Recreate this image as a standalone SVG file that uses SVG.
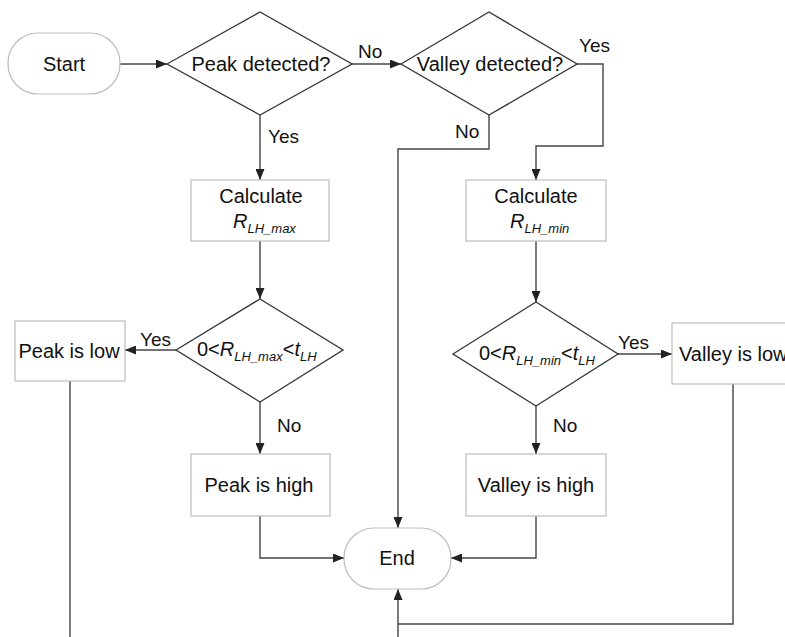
<svg xmlns="http://www.w3.org/2000/svg" width="785" height="637" viewBox="0 0 785 637">
<style>
text{font-family:"Liberation Sans",Arial,sans-serif;font-size:20px;fill:#111}
.lbl{font-size:19px}
.c{text-anchor:middle}
.box{fill:#fff;stroke:#bdbdbd;stroke-width:1.2}
.term{fill:#fff;stroke:#bdbdbd;stroke-width:1.2}
.dia{fill:#fff;stroke:#3a3a3a;stroke-width:1.4}
.ln{fill:none;stroke:#444;stroke-width:1.4}
.arr{marker-end:url(#ah)}
.it{font-style:italic}
.sub{font-size:13px;font-style:italic}
</style>
<defs>
<marker id="ah" markerUnits="userSpaceOnUse" markerWidth="11" markerHeight="9" refX="11" refY="4.5" orient="auto">
<path d="M0,0 L11,4.5 L0,9 z" fill="#222"/>
</marker>
</defs>
<g id="connectors">
<path class="ln arr" d="M120,64 H167"/>
<path class="ln arr" d="M352,64 H401"/>
<path class="ln arr" d="M260,115 V180"/>
<path class="ln arr" d="M577,64 H603 V146 H536 V180"/>
<path class="ln arr" d="M489,115 V149 H398 V528"/>
<path class="ln arr" d="M260,241 V299"/>
<path class="ln arr" d="M536,241 V302"/>
<path class="ln arr" d="M176,350 H125"/>
<path class="ln arr" d="M618,354 H672"/>
<path class="ln arr" d="M260,402 V454"/>
<path class="ln arr" d="M536,406 V454"/>
<path class="ln" d="M70,381 V637"/>
<path class="ln" d="M733,384 V624 H398"/>
<path class="ln arr" d="M398,637 V589"/>
<path class="ln arr" d="M260,516 V558 H344"/>
<path class="ln arr" d="M536,516 V558 H451"/>
<text class="lbl" x="358" y="58">No</text>
<text class="lbl" x="268" y="143">Yes</text>
<text class="lbl" x="579" y="52">Yes</text>
<text class="lbl" x="455" y="138">No</text>
<text class="lbl" x="140" y="346">Yes</text>
<text class="lbl" x="618" y="349">Yes</text>
<text class="lbl" x="277" y="432">No</text>
<text class="lbl" x="553" y="432">No</text>
</g>
<g id="start">
<rect class="term" x="8" y="33" width="112" height="61" rx="30"/>
<text class="c" x="64" y="71">Start</text>
</g>
<g id="peak-detected">
<polygon class="dia" points="167,64 260,12 352,64 260,115"/>
<text class="c" x="261" y="71">Peak detected?</text>
</g>
<g id="valley-detected">
<polygon class="dia" points="401,64 489,12 577,64 489,115"/>
<text class="c" x="490" y="71">Valley detected?</text>
</g>
<g id="calc-max">
<rect class="box" x="191" y="180" width="138" height="61"/>
<text class="c" x="261" y="203">Calculate</text>
<text x="233" y="228"><tspan class="it">R</tspan><tspan class="sub" dy="5">LH_max</tspan></text>
</g>
<g id="calc-min">
<rect class="box" x="466" y="180" width="140" height="61"/>
<text class="c" x="536" y="203">Calculate</text>
<text x="510" y="228"><tspan class="it">R</tspan><tspan class="sub" dy="5">LH_min</tspan></text>
</g>
<g id="cond-max">
<polygon class="dia" points="176,350 260,299 343,350 260,402"/>
<text x="197" y="356">0&lt;<tspan class="it">R</tspan><tspan class="sub" dy="5">LH_max</tspan><tspan dy="-5">&lt;</tspan><tspan class="it">t</tspan><tspan class="sub" dy="5">LH</tspan></text>
</g>
<g id="cond-min">
<polygon class="dia" points="453,354 536,302 618,354 536,406"/>
<text x="479" y="360">0&lt;<tspan class="it">R</tspan><tspan class="sub" dy="5">LH_min</tspan><tspan dy="-5">&lt;</tspan><tspan class="it">t</tspan><tspan class="sub" dy="5">LH</tspan></text>
</g>
<g id="peak-low">
<rect class="box" x="15" y="321" width="110" height="60"/>
<text class="c" x="69" y="358">Peak is low</text>
</g>
<g id="valley-low">
<rect class="box" x="672" y="323" width="130" height="61"/>
<text x="679" y="361">Valley is low</text>
</g>
<g id="peak-high">
<rect class="box" x="191" y="454" width="139" height="62"/>
<text class="c" x="259" y="492">Peak is high</text>
</g>
<g id="valley-high">
<rect class="box" x="466" y="454" width="140" height="62"/>
<text class="c" x="536" y="492">Valley is high</text>
</g>
<g id="end">
<rect class="term" x="344" y="528" width="107" height="61" rx="30"/>
<text class="c" x="397" y="565">End</text>
</g>
</svg>
